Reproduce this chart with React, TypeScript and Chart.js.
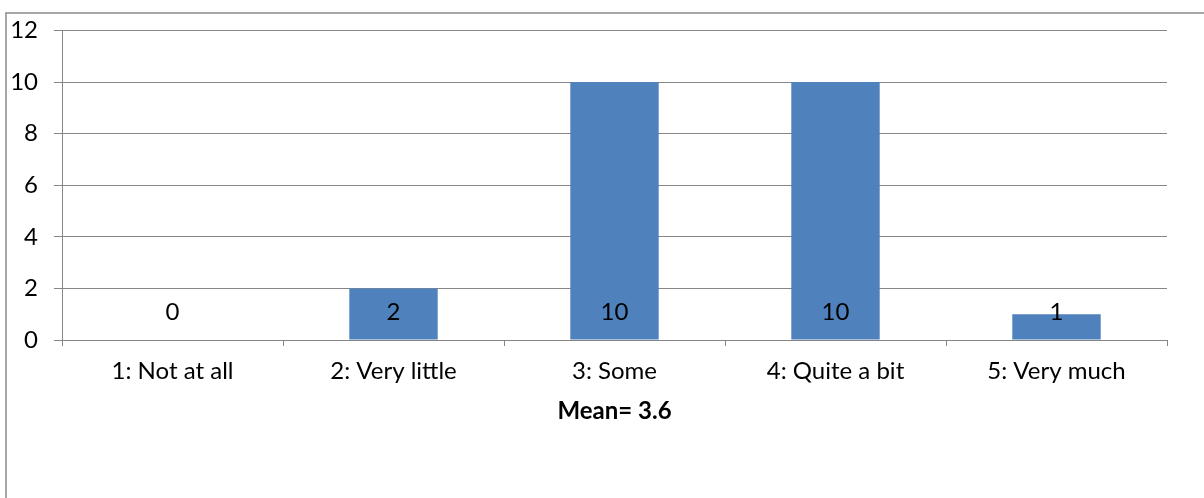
import React, { useEffect, useRef } from "react";
import { Chart, registerables } from "chart.js";

Chart.register(...registerables);

const categories = ["1: Not at all", "2: Very little", "3: Some", "4: Quite a bit", "5: Very much"];
const counts = [0, 2, 10, 10, 1];
const meanLabel = "Mean= 3.6";
const yMax = 12;
const yStep = 2;

const FONT = "Lato, 'Open Sans', sans-serif";
const FS = 24;
const GRID = "#868686";

const framePlugin = {
  id: "frame",
  beforeDraw(chart: any) {
    const ctx = chart.ctx;
    ctx.save();
    ctx.fillStyle = "#ffffff";
    ctx.fillRect(0, 0, chart.width, chart.height);
    ctx.strokeStyle = "#8a8a8a";
    ctx.lineWidth = 1.5;
    ctx.strokeRect(6, 13, chart.width + 20, chart.height + 20);
    ctx.restore();
  },
};

const labelPlugin = {
  id: "baseLabels",
  afterDatasetsDraw(chart: any) {
    const ctx = chart.ctx;
    const xs = chart.scales.x;
    const ys = chart.scales.y;
    const base = ys.getPixelForValue(0);
    ctx.save();
    ctx.fillStyle = "#000";
    ctx.font = `${FS}px ${FONT}`;
    ctx.textAlign = "center";
    ctx.textBaseline = "middle";
    chart.data.datasets[0].data.forEach((v: number, i: number) => {
      ctx.fillText(String(v), xs.getPixelForValue(i), base - 28);
    });
    ctx.font = `bold ${FS}px ${FONT}`;
    ctx.fillText(meanLabel, (chart.chartArea.left + chart.chartArea.right) / 2, 411);
    ctx.restore();
  },
};

export default function App() {
  const ref = useRef<HTMLCanvasElement>(null);
  useEffect(() => {
    const chart = new Chart(ref.current!, {
      type: "bar",
      data: {
        labels: categories,
        datasets: [
          {
            data: counts,
            backgroundColor: "#4F81BD",
            categoryPercentage: 1,
            barPercentage: 0.4,
          },
        ],
      },
      plugins: [framePlugin, labelPlugin],
      options: {
        animation: false,
        responsive: false,
        layout: { padding: { left: 0, right: 37, top: 30, bottom: 0 } },
        plugins: { legend: { display: false }, tooltip: { enabled: false } },
        scales: {
          x: {
            grid: { offset: true, drawOnChartArea: false, drawTicks: true, tickLength: 6, color: GRID },
            border: { color: GRID, width: 1 },
            ticks: { color: "#000", font: { family: FONT, size: FS }, padding: 11, maxRotation: 0 },
            afterFit(scale: any) {
              scale.height = 158;
            },
          },
          y: {
            min: 0,
            max: yMax,
            ticks: { stepSize: yStep, color: "#000", font: { family: FONT, size: FS }, padding: 16 },
            grid: { color: GRID, tickLength: 8 },
            border: { color: GRID, width: 1 },
            afterFit(scale: any) {
              scale.width = 62;
            },
          },
        },
      },
    });
    return () => chart.destroy();
  }, []);
  return (
    <div style={{ position: "fixed", left: 0, top: 0, width: 1204, height: 498 }}>
      <canvas ref={ref} width={1204} height={498} style={{ display: "block" }} />
    </div>
  );
}
